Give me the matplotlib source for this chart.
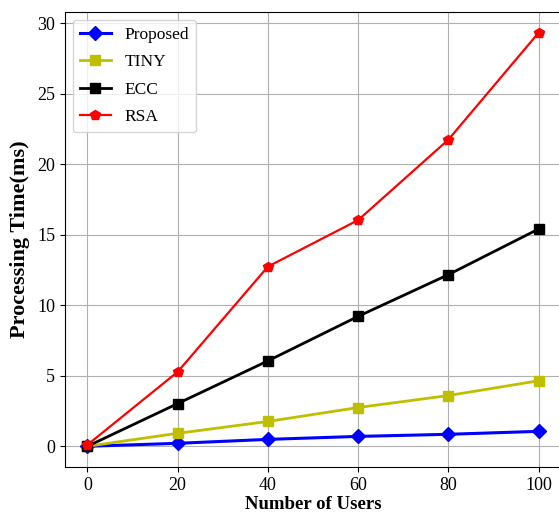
import matplotlib
matplotlib.use("Agg")
import matplotlib.pyplot as plt

users = [0, 20, 40, 60, 80, 100]
proposed = [0.0, 0.21, 0.49, 0.70, 0.85, 1.06]
tiny = [0.0, 0.92, 1.76, 2.75, 3.60, 4.65]
ecc = [0.0, 3.03, 6.06, 9.22, 12.18, 15.42]
rsa = [0.1, 5.28, 12.75, 16.05, 21.76, 29.35]

plt.rcParams['font.family'] = ['Liberation Serif', 'DejaVu Serif']

fig = plt.figure(figsize=(5.59, 5.2), dpi=100)
ax = fig.add_axes([0.116, 0.102, 0.888, 0.875])

ax.plot(users, proposed, color='blue', marker='D', markersize=7, linewidth=2.2, label='Proposed')
ax.plot(users, tiny, color='#bfbf00', marker='s', markersize=7, linewidth=2, label='TINY')
ax.plot(users, ecc, color='black', marker='s', markersize=7, linewidth=2, label='ECC')
ax.plot(users, rsa, color='red', marker='p', markersize=7, linewidth=1.6, label='RSA')

ax.set_xlim(-5, 105)
ax.set_xticks(users)
ax.set_yticks([0, 5, 10, 15, 20, 25, 30])
ax.tick_params(labelsize=13)
ax.grid(True, color='#b0b0b0')
ax.set_xlabel('Number of Users', fontsize=13.5, fontweight='bold', labelpad=2)
ax.set_ylabel('Processing Time(ms)', fontsize=16, fontweight='bold', labelpad=5)
ax.legend(loc='upper left', fontsize=12.5, labelspacing=0.65, handlelength=1.8,
          borderaxespad=0.45)

fig.savefig('out.png', dpi=100)
